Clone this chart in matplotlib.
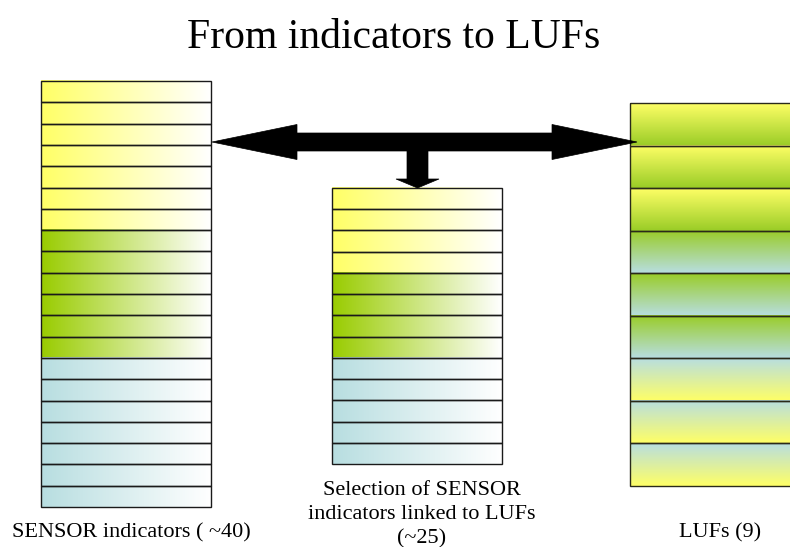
import numpy as np
import matplotlib
matplotlib.use("Agg")
import matplotlib.pyplot as plt
from matplotlib.patches import Polygon, Rectangle

# ---- data ----
title = "From indicators to LUFs"
groups = ["yellow", "green", "blue"]
sensor_counts = [7, 6, 7]          # ~40 SENSOR indicators (rows drawn)
selection_counts = [4, 4, 5]       # ~25 selected indicators (rows drawn)
luf_gradients = [("yellow", "green")] * 3 + [("green", "blue")] * 3 + [("blue", "yellow")] * 3
labels = ["SENSOR indicators ( ~40)",
          "Selection of SENSOR\nindicators linked to LUFs\n(~25)",
          "LUFs (9)"]

colors = {"yellow": (1.0, 1.0, 0.40), "green": (0.60, 0.80, 0.0), "blue": (0.72, 0.87, 0.88)}
luf_colors = {"yellow": (1.0, 1.0, 0.40), "green": (0.60, 0.80, 0.15), "blue": (0.72, 0.87, 0.88)}

W, H = 790, 547
fig = plt.figure(figsize=(7.9, 5.47), dpi=100)
ax = fig.add_axes([0, 0, 1, 1])
serif = ["Liberation Serif", "DejaVu Serif"]

def hgrad(c):
    t = np.linspace(0, 1, 256)[:, None]
    arr = np.array(c)[None, :] * (1 - t) + t
    return arr[None, :, :]

def vgrad(c1, c2):
    t = np.linspace(0, 1, 256)[:, None]
    arr = np.array(c1)[None, :] * (1 - t) + np.array(c2)[None, :] * t
    return arr[:, None, :]

def column(x0, x1, top, bottom, counts):
    n = sum(counts)
    h = (bottom - top) / n
    i = 0
    for g, c in zip(groups, counts):
        for _ in range(c):
            y0 = top + i * h
            y1 = y0 + h
            ax.imshow(hgrad(colors[g]), extent=(x0, x1, y1, y0), origin="upper",
                      aspect="auto", interpolation="bilinear", zorder=1)
            ax.add_patch(Rectangle((x0, y0), x1 - x0, h, fill=False,
                                   edgecolor="#1a1a1a", lw=1.0, zorder=2))
            i += 1

column(41, 211, 81, 507, sensor_counts)
column(332, 502, 188, 464, selection_counts)

# LUFs column (vertical gradients)
x0, x1, top, bottom = 630, 800, 103, 486
h = (bottom - top) / len(luf_gradients)
for i, (ca, cb) in enumerate(luf_gradients):
    y0 = top + i * h
    ax.imshow(vgrad(luf_colors[ca], luf_colors[cb]), extent=(x0, x1, y0 + h, y0),
              origin="upper", aspect="auto", interpolation="bilinear", zorder=1)
    ax.add_patch(Rectangle((x0, y0), x1 - x0, h, fill=False,
                           edgecolor="#2a2a1a", lw=1.0, zorder=2))

# double arrow
yc, lt, rt = 142, 212, 637
hl, hh, sh = 85, 17.5, 9
dbl = [(lt, yc), (lt + hl, yc - hh), (lt + hl, yc - sh), (rt - hl, yc - sh),
       (rt - hl, yc - hh), (rt, yc), (rt - hl, yc + hh), (rt - hl, yc + sh),
       (lt + hl, yc + sh), (lt + hl, yc + hh)]
ax.add_patch(Polygon(dbl, closed=True, facecolor="black", edgecolor="black", lw=0.5, zorder=3))

# down arrow
xc = 417.5
down = [(xc - 10.5, yc + sh), (xc + 10.5, yc + sh), (xc + 10.5, 179), (xc + 21.5, 179),
        (xc, 188), (xc - 21.5, 179), (xc - 10.5, 179)]
ax.add_patch(Polygon(down, closed=True, facecolor="black", edgecolor="black", lw=0.5, zorder=3))

ax.text(394, 48, title, ha="center", va="baseline", fontsize=30, family=serif)
ax.text(131, 537, labels[0], ha="center", va="baseline", fontsize=16, family=serif)
for k, line in enumerate(labels[1].split("\n")):
    ax.text(422, 495 + 24 * k, line, ha="center", va="baseline", fontsize=16, family=serif)
ax.text(720, 537, labels[2], ha="center", va="baseline", fontsize=16, family=serif)

ax.set_xlim(0, W)
ax.set_ylim(H, 0)
ax.axis("off")
fig.savefig("out.png", dpi=100)
